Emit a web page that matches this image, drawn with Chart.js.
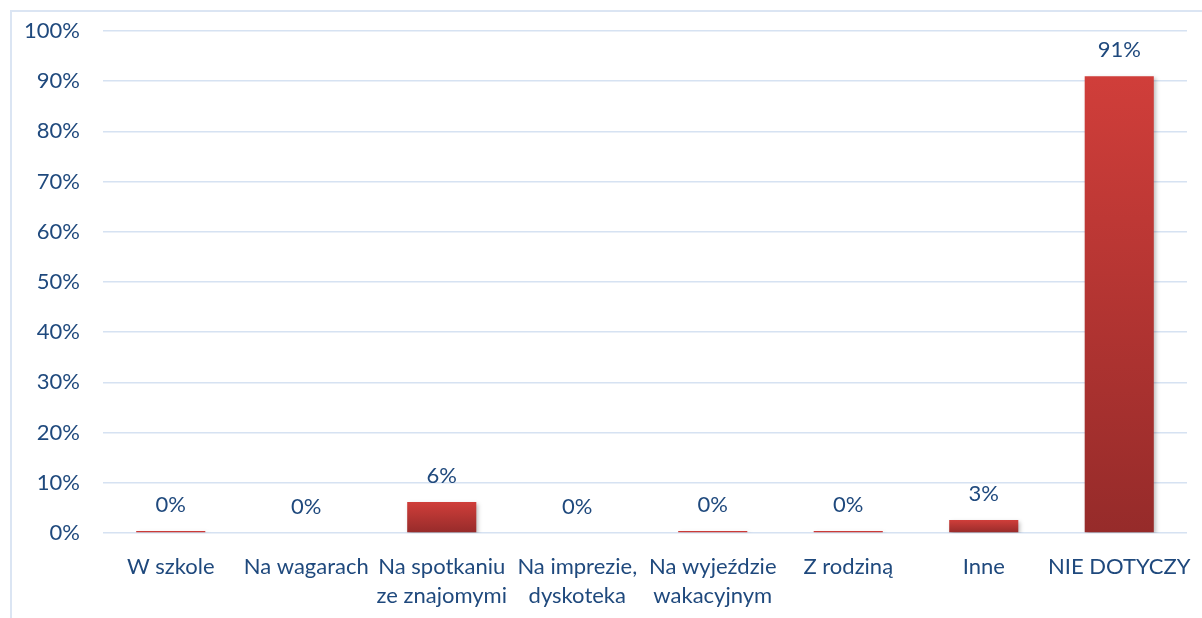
<!DOCTYPE html>
<html>
<head>
<meta charset="utf-8">
<script src="https://cdn.jsdelivr.net/npm/chart.js@4"></script>
<style>
  html, body { margin: 0; padding: 0; background: #fff; overflow: hidden; }
  #frame {
    position: absolute; left: 10px; top: 10px; width: 1300px; height: 700px;
    border-left: 2px solid #dbe5f3; border-top: 2px solid #dbe5f3;
  }
  #wrap { position: absolute; left: 0; top: 0; width: 1202px; height: 618px; }
</style>
</head>
<body>
<div id="frame"></div>
<div id="wrap"><canvas id="chart"></canvas></div>
<script>
// Odpowiedzi (kategorie) i udział procentowy
const categories = [
  "W szkole",
  "Na wagarach",
  ["Na spotkaniu", "ze znajomymi"],
  ["Na imprezie,", "dyskoteka"],
  ["Na wyjeździe", "wakacyjnym"],
  "Z rodziną",
  "Inne",
  "NIE DOTYCZY",
];
const shares = [0.4, 0, 6.2, 0, 0.4, 0.4, 2.6, 91];
const yTicks = [0, 10, 20, 30, 40, 50, 60, 70, 80, 90, 100];

const textColor = "#1F497D";
const gridColor = "#d6e2f2";
const font = { family: "Lato, 'Open Sans', sans-serif", size: 22 };

// Pionowy gradient słupka: jaśniejsza czerwień u góry, ciemniejsza u dołu
function barGradient(context) {
  const chart = context.chart;
  const area = chart.chartArea;
  if (!area) return "#c0392b";
  const y = chart.scales.y;
  const top = y.getPixelForValue(context.raw);
  const base = y.getPixelForValue(0);
  if (base - top < 5) return "#cc3b38";
  const g = chart.ctx.createLinearGradient(0, top, 0, base);
  g.addColorStop(0, "#d03e3a");
  g.addColorStop(1, "#962b2a");
  return g;
}

// Lekki cień pod słupkami
const barShadow = {
  id: "barShadow",
  beforeDatasetsDraw(chart) {
    const ctx = chart.ctx;
    ctx.save();
    ctx.shadowColor = "rgba(0,0,0,0.25)";
    ctx.shadowBlur = 4;
    ctx.shadowOffsetX = 2;
    ctx.shadowOffsetY = 2;
  },
  afterDatasetsDraw(chart) {
    chart.ctx.restore();
  },
};

// Etykiety wartości nad słupkami
const valueLabels = {
  id: "valueLabels",
  afterDraw(chart) {
    const ctx = chart.ctx;
    const meta = chart.getDatasetMeta(0);
    ctx.save();
    ctx.font = font.size + "px " + font.family;
    ctx.fillStyle = textColor;
    ctx.textAlign = "center";
    ctx.textBaseline = "middle";
    meta.data.forEach((bar, i) => {
      const label = Math.round(shares[i]) + "%";
      ctx.fillText(label, bar.x, bar.y - 26);
    });
    ctx.restore();
  },
};

new Chart(document.getElementById("chart").getContext("2d"), {
  type: "bar",
  data: {
    labels: categories,
    datasets: [
      {
        data: shares,
        backgroundColor: barGradient,
        borderWidth: 0,
        barPercentage: 0.51,
        categoryPercentage: 1,
      },
    ],
  },
  options: {
    responsive: true,
    maintainAspectRatio: false,
    animation: false,
    layout: { padding: { top: 31, right: 15, left: 0, bottom: 0 } },
    plugins: {
      legend: { display: false },
      tooltip: { enabled: false },
    },
    scales: {
      x: {
        grid: { display: false },
        border: { display: false },
        ticks: {
          color: textColor,
          font: { ...font, lineHeight: 1.33 },
          padding: 11,
          maxRotation: 0,
          autoSkip: false,
        },
        afterFit(axis) {
          axis.height = 85;
          axis.paddingLeft = 0;
          axis.paddingRight = 0;
        },
      },
      y: {
        min: 0,
        max: 100,
        afterBuildTicks(axis) {
          axis.ticks = yTicks.map((v) => ({ value: v }));
        },
        grid: { color: gridColor, lineWidth: 1.5, drawTicks: false },
        border: { display: false },
        ticks: {
          color: textColor,
          font: font,
          padding: 23,
          callback: (v) => v + "%",
        },
        afterFit(axis) {
          axis.width = 103;
          axis.paddingTop = 0;
          axis.paddingBottom = 0;
        },
      },
    },
  },
  plugins: [barShadow, valueLabels],
});
</script>
</body>
</html>
